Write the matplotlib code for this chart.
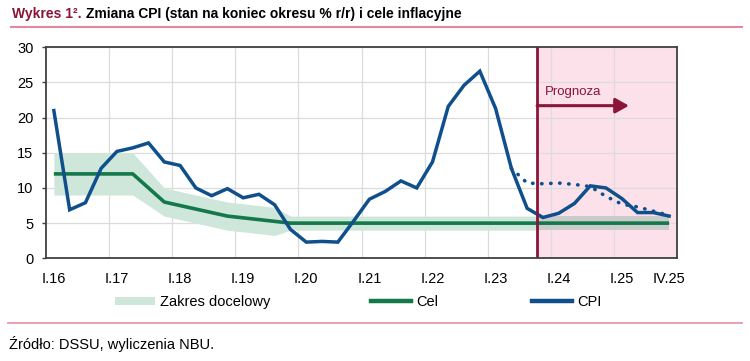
import numpy as np
import matplotlib
matplotlib.use("Agg")
import matplotlib.pyplot as plt
from matplotlib.lines import Line2D
from matplotlib.patches import Patch

plt.rcParams['font.family'] = ['Liberation Sans', 'DejaVu Sans']

# quarterly data, I.16 ... IV.25
cpi = [21.0, 6.9, 7.9, 12.8, 15.2, 15.7, 16.4, 13.7, 13.2, 10.0,
       8.9, 9.9, 8.6, 9.1, 7.6, 4.1, 2.3, 2.4, 2.3, 5.3,
       8.4, 9.5, 11.0, 10.0, 13.7, 21.6, 24.6, 26.6, 21.3, 12.8,
       7.1, 5.8, 6.4, 7.8, 10.3, 10.0, 8.5, 6.5, 6.5, 6.0]
target = [12, 12, 12, 12, 12, 12, 10, 8, 7.5, 7,
          6.5, 6, 5.75, 5.5, 5.25, 5, 5, 5, 5, 5,
          5, 5, 5, 5, 5, 5, 5, 5, 5, 5,
          5, 5, 5, 5, 5, 5, 5, 5, 5, 5]
band_width = [3, 3, 3, 3, 3, 3, 2.5, 2, 2, 2,
              2, 2, 2, 2, 2, 1, 1, 1, 1, 1,
              1, 1, 1, 1, 1, 1, 1, 1, 1, 1,
              1, 1, 1, 1, 1, 1, 1, 1, 1, 1]
# previous forecast (dotted), from III.23
prev_fc_start = 29
prev_fc = [12.8, 10.7, 10.6, 10.7, 10.5, 10.2, 8.8, 7.7, 7.3, 6.7, 6.1]

tick_labels = ['I.16', 'I.17', 'I.18', 'I.19', 'I.20', 'I.21', 'I.22',
               'I.23', 'I.24', 'I.25', 'IV.25']
tick_idx = [0, 4, 8, 12, 16, 20, 24, 28, 32, 36, 39]
forecast_x = 30.63

blue = '#0f4f8c'
green = '#13784a'
band_green = '#cfe6db'
maroon = '#8a1538'

x = np.arange(len(cpi), dtype=float)
target = np.array(target, dtype=float)
bw = np.array(band_width, dtype=float)
lo, hi = target - bw, target + bw

fig = plt.figure(figsize=(7.5, 3.61), dpi=100)
ax = fig.add_axes([0.0613, 0.2845, 0.8414, 0.5845])

ax.axvspan(forecast_x, len(cpi) - 0.5, color='#fce1ea', zorder=0, lw=0)

# target range: green before the forecast line, grey after it
lo_f, hi_f = np.interp(forecast_x, x, lo), np.interp(forecast_x, x, hi)
m = x <= forecast_x
ax.fill_between(np.append(x[m], forecast_x), np.append(lo[m], lo_f),
                np.append(hi[m], hi_f), color=band_green, lw=0, zorder=1)
ax.fill_between(np.insert(x[~m], 0, forecast_x), np.insert(lo[~m], 0, lo_f),
                np.insert(hi[~m], 0, hi_f), color='#cbcbcb', lw=0, zorder=1)

ax.plot(x, target, color=green, lw=2.6, zorder=3, solid_capstyle='butt')
ax.plot(x, cpi, color=blue, lw=2.5, zorder=4, solid_joinstyle='miter')
ax.plot(np.arange(prev_fc_start, prev_fc_start + len(prev_fc)), prev_fc, color=blue,
        lw=2.6, linestyle=(0, (0.1, 2.4)), dash_capstyle='round', zorder=4)

ax.axvline(forecast_x, color=maroon, lw=2, zorder=5)
ax.annotate('', xy=(36.45, 21.7), xytext=(forecast_x, 21.7),
            arrowprops=dict(arrowstyle='-|>,head_length=0.8,head_width=0.45',
                            color=maroon, lw=2.2, shrinkA=0, shrinkB=0), zorder=5)
ax.text(31.1, 23.6, 'Prognoza', color=maroon, fontsize=9.5, va='center', ha='left', zorder=5)

ax.set_xlim(-0.5, len(cpi) - 0.5)
ax.set_ylim(0, 30)
ax.set_yticks(range(0, 31, 5))
ax.set_xticks(tick_idx)
ax.set_xticklabels(tick_labels)
ax.set_xticks(np.arange(3.5, len(cpi) - 1, 4), minor=True)
ax.tick_params(axis='x', which='both', length=0, pad=10, labelsize=10.5, colors='black')
ax.tick_params(axis='y', length=3, width=1, pad=6, labelsize=10.5, color='#404040')
ax.grid(axis='y', color='#dcdcdc', lw=0.9, zorder=0)
ax.grid(axis='x', which='minor', color='#dcdcdc', lw=0.9, zorder=0)
ax.set_axisbelow(True)
for s in ax.spines.values():
    s.set_color('#404040')
    s.set_linewidth(1.3)
    s.set_zorder(6)

# legend, three separate entries
entries = [
    (Patch(facecolor=band_green, edgecolor='none'), 'Zakres docelowy', 115),
    (Line2D([], [], color=green, lw=3.2), 'Cel', 371),
    (Line2D([], [], color=blue, lw=3.2), 'CPI', 532),
]
for h, lab, px in entries:
    fig.legend([h], [lab], loc='center left', bbox_to_anchor=(px / 750, 1 - 302 / 361),
               frameon=False, fontsize=10.5, handlelength=2.75, handleheight=0.5,
               handletextpad=0.35, borderpad=0, borderaxespad=0)

# title
fig.canvas.draw()
r = fig.canvas.get_renderer()
t1 = fig.text(12 / 750, 1 - 14 / 361, 'Wykres 1².', color=maroon, fontsize=10,
              fontweight='bold', va='center', ha='left')
bb = t1.get_window_extent(renderer=r)
fig.text((bb.x1 + 4) / 750, 1 - 14 / 361, 'Zmiana CPI (stan na koniec okresu % r/r) i cele inflacyjne',
         color='black', fontsize=10, fontweight='bold', va='center', ha='left')
fig.add_artist(Line2D([11 / 750, 742 / 750], [1 - 27 / 361] * 2, color='#e3879b', lw=1.5))
fig.add_artist(Line2D([8 / 750, 742 / 750], [1 - 323 / 361] * 2, color='#e898aa', lw=1.3))
fig.text(9 / 750, 1 - 344 / 361, 'Źródło: DSSU, wyliczenia NBU.', fontsize=10.5,
         va='center', ha='left')

fig.savefig('out.png', dpi=100)
